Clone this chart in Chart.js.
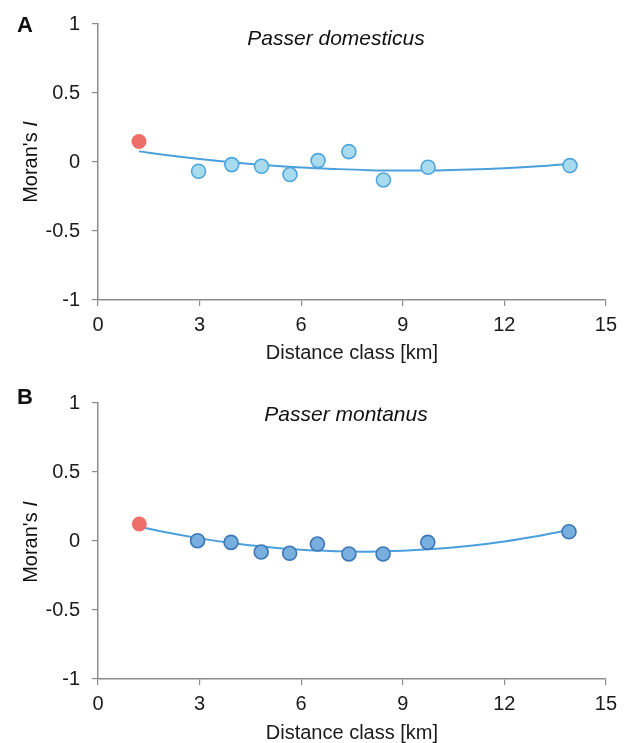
<!DOCTYPE html>
<html lang="en">
<head>
    <meta charset="UTF-8">
    <title>Moran's I correlograms</title>
    <style>
        body { margin: 0; background: #fff; font-family: 'Liberation Sans', Arial, sans-serif; }
        #page { position: relative; width: 624px; height: 743px; overflow: hidden; }
        .panel { position: absolute; left: 0; width: 624px; }
        .lbl { position: absolute; color: #111; line-height: 1; white-space: nowrap; transform: translate(-50%, -50%); }
        .letter { font-size: 22px; font-weight: bold; }
        .species { font-size: 21px; font-style: italic; }
        .ytitle { font-size: 20px; transform: translate(-50%, -50%) rotate(-90deg); }
    </style>
</head>
<body>
<div id="page">
    <div class="panel" style="top:0;height:370px;"><canvas id="chartA" width="624" height="370"></canvas></div>
    <div class="panel" style="top:370px;height:373px;"><canvas id="chartB" width="624" height="373"></canvas></div>

    <div class="lbl letter" style="left:25px;top:25px;">A</div>
    <div class="lbl species" style="left:336px;top:37px;">Passer domesticus</div>
    <div class="lbl ytitle" style="left:30px;top:162px;">Moran's <i>I</i></div>

    <div class="lbl letter" style="left:25px;top:397px;">B</div>
    <div class="lbl species" style="left:346px;top:413px;">Passer montanus</div>
    <div class="lbl ytitle" style="left:30px;top:542px;">Moran's <i>I</i></div>
</div>

<script src="https://cdn.jsdelivr.net/npm/chart.js@4.4.1/dist/chart.umd.min.js"></script>
<script>
    // axis ticks
    var xTicks = [0, 3, 6, 9, 12, 15];
    var yTicks = [-1, -0.5, 0, 0.5, 1];

    // Passer domesticus (A)
    var firstDistA = [1.21];
    var firstMoranA = [0.149];
    var distA = [2.97, 3.95, 4.83, 5.67, 6.50, 7.41, 8.43, 9.75, 13.94];
    var moranA = [-0.067, -0.019, -0.031, -0.091, 0.010, 0.075, -0.130, -0.038, -0.026];
    // trend curve
    var trendDistA = [1.21, 2, 3, 4, 5, 6, 7, 8, 9, 10, 11, 12, 13, 13.94];
    var trendMoranA = [0.077, 0.051, 0.022, -0.003, -0.024, -0.040, -0.051, -0.059, -0.062, -0.061, -0.055, -0.045, -0.031, -0.013];

    // Passer montanus (B)
    var firstDistB = [1.22];
    var firstMoranB = [0.123];
    var distB = [2.94, 3.93, 4.82, 5.66, 6.48, 7.41, 8.42, 9.74, 13.91];
    var moranB = [0.002, -0.010, -0.080, -0.089, -0.022, -0.094, -0.094, -0.010, 0.067];
    var trendDistB = [1.22, 2, 3, 4, 5, 6, 7, 8, 9, 10, 11, 12, 13, 13.91];
    var trendMoranB = [0.104, 0.063, 0.019, -0.017, -0.044, -0.064, -0.074, -0.077, -0.071, -0.057, -0.034, -0.003, 0.037, 0.080];

    Chart.defaults.font.family = "'Liberation Sans', Arial, sans-serif";
    Chart.defaults.color = '#1a1a1a';

    function pairs(xs, ys) {
        return xs.map(function (x, i) { return { x: x, y: ys[i] }; });
    }

    function makeChart(id, cfg) {
        var axisColor = '#8c8c8c';
        return new Chart(document.getElementById(id), {
            type: 'scatter',
            data: {
                datasets: [
                    {
                        data: pairs(cfg.firstX, cfg.firstY),
                        backgroundColor: '#ee6f6a',
                        borderWidth: 0,
                        pointRadius: 7.5,
                        order: 0
                    },
                    {
                        data: pairs(cfg.x, cfg.y),
                        backgroundColor: cfg.fill,
                        borderColor: cfg.border,
                        borderWidth: 1.6,
                        pointRadius: 7,
                        order: 1
                    },
                    {
                        type: 'line',
                        data: pairs(cfg.trendX, cfg.trendY),
                        borderColor: '#4b9fdc',
                        borderWidth: 2,
                        pointRadius: 0,
                        tension: 0.4,
                        fill: false,
                        order: 2
                    }
                ]
            },
            options: {
                responsive: false,
                animation: false,
                events: [],
                layout: { padding: { top: cfg.padTop, right: 18, bottom: cfg.padBottom, left: 0 } },
                plugins: { legend: { display: false }, tooltip: { enabled: false } },
                scales: {
                    x: {
                        type: 'linear',
                        min: 0,
                        max: 15,
                        afterBuildTicks: function (axis) {
                            axis.ticks = xTicks.map(function (v) { return { value: v }; });
                        },
                        afterFit: function (axis) { axis.height = cfg.xHeight; },
                        ticks: { font: { size: 20 }, padding: 7, maxRotation: 0, color: '#1a1a1a' },
                        grid: { drawOnChartArea: false, drawTicks: true, tickLength: 6, color: axisColor, lineWidth: 1.2 },
                        border: { display: true, color: axisColor, width: 1.5 },
                        title: {
                            display: true,
                            text: 'Distance class [km]',
                            font: { size: 20, lineHeight: 1 },
                            padding: 0,
                            color: '#1a1a1a'
                        }
                    },
                    y: {
                        type: 'linear',
                        min: -1,
                        max: 1,
                        afterBuildTicks: function (axis) {
                            axis.ticks = yTicks.map(function (v) { return { value: v }; });
                        },
                        afterFit: function (axis) { axis.width = 98; },
                        ticks: {
                            font: { size: 20 },
                            padding: 12,
                            color: '#1a1a1a',
                            callback: function (v) { return String(v); }
                        },
                        grid: { drawOnChartArea: false, drawTicks: true, tickLength: 6, color: axisColor, lineWidth: 1.2 },
                        border: { display: true, color: axisColor, width: 1.5 }
                    }
                }
            }
        });
    }

    makeChart('chartA', {
        firstX: firstDistA, firstY: firstMoranA,
        x: distA, y: moranA,
        trendX: trendDistA, trendY: trendMoranA,
        fill: '#a9dbef', border: '#4fa6de',
        padTop: 23, padBottom: 7, xHeight: 63
    });

    makeChart('chartB', {
        firstX: firstDistB, firstY: firstMoranB,
        x: distB, y: moranB,
        trendX: trendDistB, trendY: trendMoranB,
        fill: '#79afdf', border: '#3b77b7',
        padTop: 33, padBottom: 0, xHeight: 64
    });
</script>
</body>
</html>
